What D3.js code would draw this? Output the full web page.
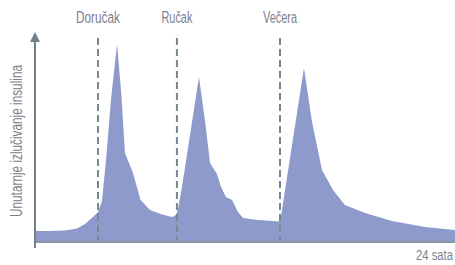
<!DOCTYPE html>
<html>
<head>
<meta charset="utf-8">
<script src="https://cdn.jsdelivr.net/npm/d3@7"></script>
<style>
  body { margin: 0; background: #fff; }
  text { font-family: "Liberation Sans", Arial, sans-serif; fill: #7f808d; }
</style>
</head>
<body>
<div id="chart"></div>
<script>
// sati (0-24) i relativno lucenje inzulina
var hours = [0, 0.86, 1.71, 2.4, 2.86, 3.31, 3.6, 3.83, 4.06, 4.34, 4.69, 4.94, 5.14, 5.6, 6.03, 6.57, 7.26, 7.83, 8.06, 8.17, 8.4, 9.37, 9.71, 10, 10.4, 10.63, 10.91, 11.26, 11.6, 11.89, 12.74, 13.94, 14.06, 15.37, 15.6, 15.83, 16.4, 17.03, 17.71, 18.86, 20.4, 22.29, 24];
var insulin = [5.2, 5.2, 5.5, 6.4, 8.6, 11.9, 14.3, 19.5, 39, 67.6, 94.3, 69.5, 42.4, 32.9, 20, 15.2, 13.1, 11.9, 12.9, 15.7, 26.2, 78.6, 58.1, 37.6, 32.4, 26.2, 21.4, 20, 14.3, 11.4, 10.5, 9.8, 12.4, 82.9, 70, 57.1, 34.3, 24.8, 17.6, 13.8, 10, 7.1, 5.7];

var mealNames = ["Doručak", "Ručak", "Večera"];
var mealHours = [3.6, 8.11, 14.0];
var mealLabelWidths = [44, 31, 34];

var yLabel = "Unutarnje izlučivanje insulina";
var xLabel = "24 sata";

var width = 455, height = 265;

var svg = d3.select("#chart").append("svg")
    .attr("width", width)
    .attr("height", height);

var x = d3.scaleLinear().domain([0, 24]).range([35, 455]);
var y = d3.scaleLinear().domain([0, 100]).range([242, 32]);

var data = hours.map(function (h, i) { return { h: h, v: insulin[i] }; });

// povrsina
var area = d3.area()
    .x(function (d) { return x(d.h); })
    .y0(y(0))
    .y1(function (d) { return y(d.v); });

svg.append("path")
    .datum(data)
    .attr("d", area)
    .attr("fill", "#8e9acb");

// obroci
svg.selectAll(".meal")
    .data(mealHours)
    .join("line")
    .attr("x1", function (d) { return x(d); })
    .attr("x2", function (d) { return x(d); })
    .attr("y1", 38)
    .attr("y2", 240)
    .attr("stroke", "#76888f")
    .attr("stroke-width", 2)
    .attr("stroke-dasharray", "7,4");

svg.selectAll(".mealLabel")
    .data(mealNames)
    .join("text")
    .attr("x", function (d, i) { return x(mealHours[i]) - mealLabelWidths[i] / 2; })
    .attr("y", 23)
    .attr("textLength", function (d, i) { return mealLabelWidths[i]; })
    .attr("lengthAdjust", "spacingAndGlyphs")
    .style("font-size", "16px")
    .text(function (d) { return d; });

// osi
svg.append("line")
    .attr("x1", 35).attr("x2", 455)
    .attr("y1", y(0)).attr("y2", y(0))
    .attr("stroke", "#8a979b")
    .attr("stroke-width", 2);

svg.append("line")
    .attr("x1", x(0)).attr("x2", x(0))
    .attr("y1", 38).attr("y2", 248)
    .attr("stroke", "#6f8086")
    .attr("stroke-width", 2);

svg.append("path")
    .attr("d", "M" + (x(0) - 5) + ",42 L" + x(0) + ",32 L" + (x(0) + 5) + ",42 Z")
    .attr("fill", "#6f8086");

svg.append("text")
    .attr("transform", "translate(22,217) rotate(-90)")
    .attr("textLength", 152)
    .attr("lengthAdjust", "spacingAndGlyphs")
    .style("font-size", "16px")
    .text(yLabel);

svg.append("text")
    .attr("transform", "translate(453,260) scale(0.75,1)")
    .attr("text-anchor", "end")
    .style("font-size", "15px")
    .text(xLabel);
</script>
</body>
</html>
